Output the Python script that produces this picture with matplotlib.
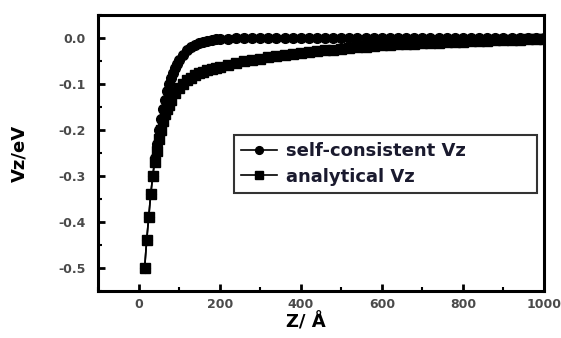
import matplotlib.pyplot as plt
from matplotlib.ticker import MultipleLocator

# --- Data ---
z_sc = [15, 20, 25, 30, 35, 40, 45, 50, 55, 60, 65, 70, 75, 80, 85, 90, 95, 100,
        110, 120, 130, 140, 150, 160, 170, 180, 190, 200, 220, 240, 260, 280, 300,
        320, 340, 360, 380, 400, 420, 440, 460, 480, 500, 520, 540, 560, 580, 600,
        620, 640, 660, 680, 700, 720, 740, 760, 780, 800, 820, 840, 860, 880, 900,
        920, 940, 960, 980, 1000]
v_sc = [-0.50, -0.44, -0.39, -0.34, -0.30, -0.26, -0.23, -0.20, -0.175, -0.155,
        -0.135, -0.115, -0.10, -0.088, -0.076, -0.066, -0.056, -0.048,
        -0.036, -0.027, -0.020, -0.015, -0.011, -0.008, -0.006, -0.004, -0.003,
        -0.002, -0.0015, -0.001, -0.001, -0.0008, -0.0006,
        -0.0005, -0.0004, -0.0003, -0.0003, -0.0002, -0.0002, -0.0002, -0.0001,
        -0.0001, -0.0001, -0.0001, -0.0001, 0.0, 0.0, 0.0,
        0.0, 0.0, 0.0, 0.0, 0.0, 0.0, 0.0, 0.0, 0.0, 0.0, 0.0, 0.0, 0.0, 0.0, 0.0,
        0.0, 0.0, 0.0, 0.0, 0.0]

z_an = [15, 20, 25, 30, 35, 40, 45, 50, 55, 60, 65, 70, 75, 80, 90, 100, 110,
        120, 130, 140, 150, 160, 170, 180, 190, 200, 220, 240, 260, 280, 300,
        320, 340, 360, 380, 400, 420, 440, 460, 480, 500, 520, 540, 560, 580, 600,
        620, 640, 660, 680, 700, 720, 740, 760, 780, 800, 820, 840, 860, 880, 900,
        920, 940, 960, 980, 1000]
v_an = [-0.50, -0.44, -0.39, -0.34, -0.30, -0.27, -0.245, -0.22, -0.20, -0.18,
        -0.166, -0.155, -0.145, -0.135, -0.12, -0.108, -0.099,
        -0.092, -0.086, -0.081, -0.077, -0.073, -0.070, -0.067, -0.065, -0.063,
        -0.059, -0.055, -0.051, -0.048, -0.045,
        -0.042, -0.040, -0.037, -0.035, -0.033, -0.031, -0.029, -0.027, -0.025,
        -0.023, -0.022, -0.020, -0.019, -0.018, -0.016,
        -0.015, -0.014, -0.013, -0.012, -0.011, -0.010, -0.010, -0.009, -0.008,
        -0.008, -0.007, -0.006, -0.006, -0.005, -0.005,
        -0.004, -0.004, -0.003, -0.003, -0.002]

x_ticks = [0, 200, 400, 600, 800, 1000]
y_ticks = [0.0, -0.1, -0.2, -0.3, -0.4, -0.5]

fig = plt.figure(figsize=(5.61, 3.38), dpi=100)
ax = fig.add_axes([0.1747, 0.139, 0.795, 0.8166])

ax.plot(z_sc, v_sc, color='black', linewidth=1.2, marker='o', markersize=7,
        label='self-consistent Vz')
ax.plot(z_an, v_an, color='black', linewidth=1.2, marker='s', markersize=7,
        label='analytical Vz')

ax.set_xlim(-100, 1000)
ax.set_ylim(-0.55, 0.05)
ax.set_xticks(x_ticks)
ax.set_yticks(y_ticks)
ax.set_yticklabels([f'{v:.1f}' for v in y_ticks])
ax.xaxis.set_minor_locator(MultipleLocator(100))
ax.yaxis.set_minor_locator(MultipleLocator(0.05))

for s in ax.spines.values():
    s.set_linewidth(2.2)
ax.tick_params(which='major', direction='in', length=5, width=2, top=False, right=False,
               labelsize=9, labelcolor='#4a4a4a')
ax.tick_params(which='minor', direction='in', length=3, width=1.5, top=False, right=False)
ax.tick_params(axis='y', pad=9)
ax.tick_params(axis='x', pad=5)
for lbl in ax.get_xticklabels() + ax.get_yticklabels():
    lbl.set_fontweight('bold')

ax.set_xlabel('Z/ Å', fontsize=13, fontweight='bold')
ax.set_ylabel('Vz/eV', fontsize=13, fontweight='bold')
ax.xaxis.set_label_coords(0.466, -0.08)
ax.yaxis.set_label_coords(-0.155, 0.5)

leg = ax.legend(loc='upper left', bbox_to_anchor=(0.305, 0.359, 0.679, 0.206),
                mode='expand', borderaxespad=0,
                prop={'weight': 'bold', 'size': 13}, frameon=True, fancybox=False,
                edgecolor='black', handlelength=2.0, handletextpad=0.5,
                markerscale=0.8, borderpad=0.4, labelspacing=0.4)
leg.get_frame().set_linewidth(1.5)
for t in leg.get_texts():
    t.set_color('#1a1a2e')

plt.savefig('out.png', dpi=100)
plt.close()
